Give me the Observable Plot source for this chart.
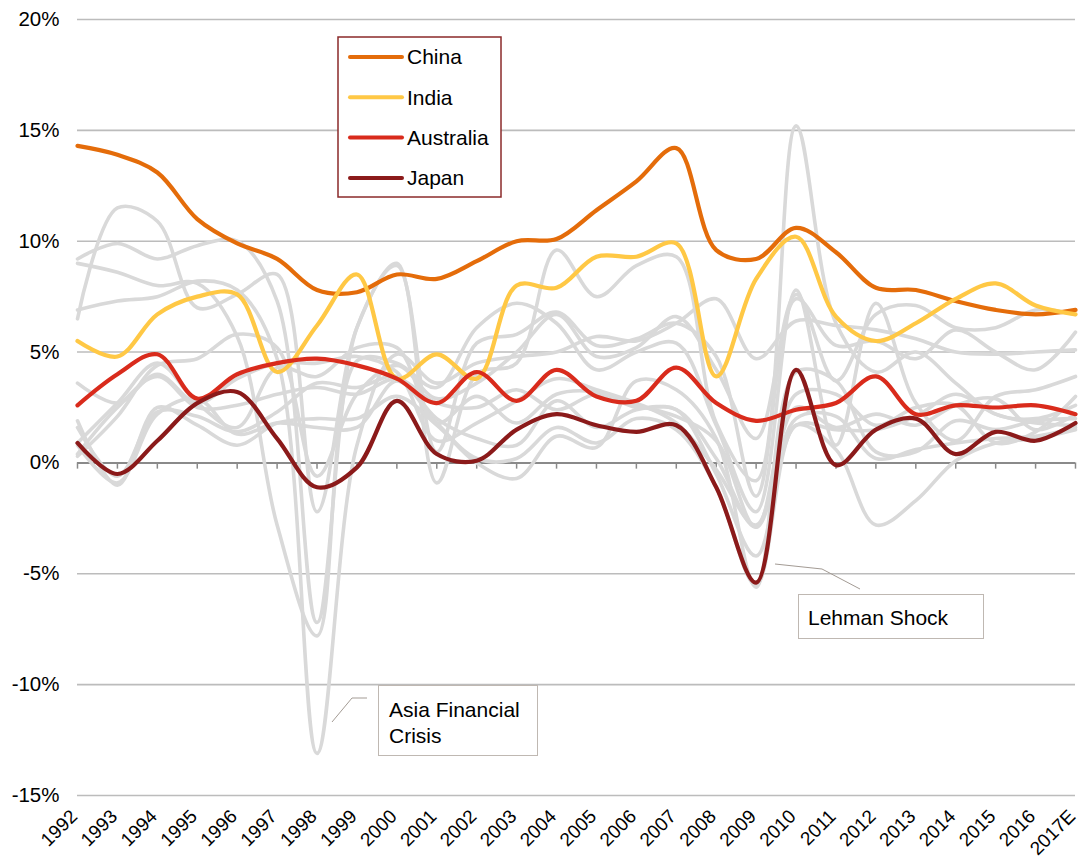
<!DOCTYPE html>
<html>
<head>
<meta charset="utf-8">
<script src="https://cdn.jsdelivr.net/npm/d3@7"></script>
<script src="https://cdn.jsdelivr.net/npm/@observablehq/plot@0.6"></script>
<style>
  body { margin: 0; background: #fff; }
  #chart { width: 1080px; height: 863px; }
</style>
</head>
<body>
<div id="chart"></div>
<script>
// ---- categories & ticks ----
const years = ["1992","1993","1994","1995","1996","1997","1998","1999","2000","2001","2002","2003","2004","2005","2006","2007","2008","2009","2010","2011","2012","2013","2014","2015","2016","2017E"];
const yTicks = [-15, -10, -5, 0, 5, 10, 15, 20];

// ---- highlighted series (real GDP growth, %) ----
const highlightNames = ["China", "India", "Australia", "Japan"];
const highlightColors = ["#e46c0a", "#ffc845", "#d92b1c", "#8b1a1a"];
const china     = [14.3, 13.9, 13.1, 11.0, 9.9, 9.2, 7.8, 7.7, 8.5, 8.3, 9.1, 10.0, 10.1, 11.4, 12.7, 14.2, 9.6, 9.2, 10.6, 9.5, 7.9, 7.8, 7.3, 6.9, 6.7, 6.9];
const india     = [5.5, 4.8, 6.7, 7.5, 7.6, 4.1, 6.2, 8.5, 3.8, 4.9, 3.8, 8.0, 7.9, 9.3, 9.3, 9.9, 3.9, 8.3, 10.2, 6.6, 5.5, 6.3, 7.4, 8.1, 7.1, 6.7];
const australia = [2.6, 4.0, 4.9, 2.9, 4.0, 4.5, 4.7, 4.4, 3.8, 2.7, 4.1, 2.8, 4.2, 3.0, 2.8, 4.3, 2.7, 1.9, 2.4, 2.7, 3.9, 2.2, 2.6, 2.5, 2.6, 2.2];
const japan     = [0.9, -0.5, 1.0, 2.7, 3.2, 1.1, -1.1, -0.2, 2.8, 0.4, 0.1, 1.5, 2.2, 1.7, 1.4, 1.7, -1.1, -5.4, 4.2, -0.1, 1.5, 2.0, 0.4, 1.4, 1.0, 1.8];

// ---- background (grey) series ----
const greyNames = ["Singapore","Malaysia","Thailand","Indonesia","Philippines","United States","United Kingdom","Germany","France","Italy","Canada"];
const singapore   = [6.5, 11.5, 10.9, 7.0, 7.6, 8.5, -2.2, 6.1, 9.0, -0.9, 4.0, 4.5, 9.6, 7.5, 8.9, 9.3, 1.8, -0.8, 15.2, 6.3, 4.1, 5.0, 3.6, 2.2, 2.0, 2.6];
const malaysia    = [9.2, 9.9, 9.2, 9.8, 10.0, 7.3, -7.2, 6.1, 8.9, 0.5, 5.4, 5.8, 6.8, 5.3, 5.6, 6.3, 4.8, -1.5, 7.4, 5.3, 5.5, 4.7, 6.0, 5.0, 4.2, 5.9];
const thailand    = [9.0, 8.6, 8.0, 8.1, 5.7, -2.8, -7.8, 4.6, 4.5, 3.4, 6.1, 7.2, 6.3, 4.2, 5.0, 5.4, 1.7, -2.2, 7.8, 0.8, 7.2, 2.7, 1.0, 3.0, 3.3, 3.9];
const indonesia   = [6.9, 7.3, 7.5, 8.2, 7.8, 4.7, -13.1, 0.8, 4.9, 3.6, 4.5, 4.8, 5.0, 5.7, 5.5, 6.3, 7.4, 4.7, 6.4, 6.2, 6.0, 5.6, 5.0, 4.9, 5.0, 5.1];
const philippines = [0.3, 2.1, 4.4, 4.7, 5.8, 5.2, -0.6, 3.1, 4.4, 2.9, 3.6, 5.0, 6.7, 4.8, 5.2, 6.6, 4.2, 1.1, 7.6, 3.7, 6.7, 7.1, 6.1, 6.1, 6.9, 6.7];
const usa         = [3.6, 2.7, 4.0, 2.7, 3.8, 4.5, 4.5, 4.8, 4.1, 1.0, 1.8, 2.8, 3.8, 3.3, 2.7, 1.8, -0.3, -2.8, 2.5, 1.6, 2.2, 1.7, 2.6, 2.9, 1.5, 2.2];
const uk          = [0.4, 2.5, 3.9, 2.5, 2.6, 3.1, 3.4, 3.1, 3.8, 2.7, 2.5, 3.3, 2.4, 3.1, 2.5, 2.4, -0.5, -4.2, 1.7, 1.5, 1.5, 2.1, 3.1, 2.2, 1.8, 1.7];
const germany     = [1.9, -1.0, 2.5, 1.7, 0.8, 1.8, 2.0, 2.0, 3.0, 1.7, 0.0, -0.7, 1.2, 0.7, 3.7, 3.3, 1.1, -5.6, 4.1, 3.7, 0.5, 0.5, 1.9, 1.5, 1.9, 2.0];
const france      = [1.6, -0.6, 2.3, 2.1, 1.4, 2.3, 3.6, 3.4, 3.9, 2.0, 1.1, 0.8, 2.8, 1.6, 2.4, 2.4, 0.2, -2.9, 2.0, 2.1, 0.2, 0.6, 0.9, 1.1, 1.2, 1.6];
const italy       = [0.8, -0.9, 2.2, 2.9, 1.3, 1.8, 1.6, 1.6, 3.7, 1.8, 0.2, 0.2, 1.6, 0.9, 2.0, 1.5, -1.1, -5.5, 1.7, 0.6, -2.8, -1.7, 0.1, 0.9, 1.1, 1.5];
const canada      = [0.9, 2.7, 4.5, 2.7, 1.6, 4.3, 3.9, 5.2, 5.2, 1.8, 3.0, 1.8, 3.1, 3.2, 2.6, 2.1, 1.0, -2.9, 3.1, 3.1, 1.7, 2.5, 2.6, 0.9, 1.4, 3.0];

// ---- annotations ----
const annotations = ["Asia Financial|Crisis", "Lehman Shock"];

// ---- build long tables (x = category index) ----
const greySeries = [singapore, malaysia, thailand, indonesia, philippines, usa, uk, germany, france, italy, canada];
const highlightSeries = [china, india, australia, japan];
const toRows = (names, series) => names.flatMap((n, i) => series[i].map((v, j) => ({country: n, idx: j, year: years[j], value: v})));
const greyRows = toRows(greyNames, greySeries);
const mainRows = toRows(highlightNames, highlightSeries);
const yearIdx = years.map((y, i) => ({idx: i, label: y}));

const FONT = "'Liberation Sans', Arial, Helvetica, sans-serif";

const chart = Plot.plot({
  width: 1080,
  height: 863,
  marginLeft: 77,
  marginRight: 5,
  marginTop: 19,
  marginBottom: 68,
  style: {fontFamily: FONT, fontSize: "20px", background: "#fff", color: "#000"},
  x: {type: "linear", domain: [0, years.length - 1], range: [77, 1075], axis: null},
  y: {domain: [-15, 20], axis: null},
  color: {domain: highlightNames, range: highlightColors},
  marks: [
    Plot.ruleY(yTicks.filter(d => d !== 0), {y: d => d, stroke: "#bcbcbc", strokeWidth: 1.6}),
    Plot.ruleY([0], {stroke: "#8a8a8a", strokeWidth: 2}),
    Plot.ruleX(yearIdx, {x: "idx", y1: 0, y2: -0.28, stroke: "#8a8a8a", strokeWidth: 1.5}),
    Plot.line(greyRows, {x: "idx", y: "value", z: "country", stroke: "#d9d9d9", strokeWidth: 3.6, curve: "catmull-rom", strokeLinecap: "round", strokeLinejoin: "round"}),
    Plot.line(mainRows, {x: "idx", y: "value", z: "country", stroke: "country", strokeWidth: 4.2, curve: "catmull-rom", strokeLinecap: "round", strokeLinejoin: "round"}),
    Plot.text(yTicks, {y: d => d, text: d => `${d}%`, frameAnchor: "left", textAnchor: "end", dx: -18, fontSize: 20.5, fill: "#000"}),
    Plot.text(yearIdx, {x: "idx", text: "label", frameAnchor: "bottom", textAnchor: "end", rotate: -45, dy: 22, dx: 1, fontSize: 19, fill: "#000"})
  ]
});

document.getElementById("chart").appendChild(chart);

// ---- legend (inside plot area) ----
const svg = d3.select(chart);
const lg = svg.append("g").attr("font-family", FONT).attr("font-size", 21).attr("text-anchor", "start");
lg.append("rect").attr("x", 338).attr("y", 37).attr("width", 163).attr("height", 160)
  .attr("fill", "#fff").attr("stroke", "#8b2a2a").attr("stroke-width", 1.5);
highlightNames.forEach((n, i) => {
  const yy = 57 + i * 40.3;
  lg.append("line").attr("x1", 350).attr("x2", 402).attr("y1", yy).attr("y2", yy)
    .attr("stroke", highlightColors[i]).attr("stroke-width", 4).attr("stroke-linecap", "round");
  lg.append("text").attr("x", 407).attr("y", yy).attr("dy", "0.35em").attr("fill", "#000").attr("text-anchor", "start").text(n);
});

// ---- annotation boxes ----
const ag = svg.append("g").attr("font-family", FONT).attr("font-size", 21).attr("text-anchor", "start");
// Asia Financial Crisis
ag.append("polyline").attr("points", "332,722 352,698 367,698").attr("fill", "none").attr("stroke", "#a39b94").attr("stroke-width", 1);
ag.append("rect").attr("x", 378.5).attr("y", 685.5).attr("width", 159).attr("height", 70)
  .attr("fill", "#fff").attr("stroke", "#bfb8b2").attr("stroke-width", 1);
annotations[0].split("|").forEach((t, i) => {
  ag.append("text").attr("x", 389).attr("y", 717 + i * 26).attr("fill", "#000").attr("text-anchor", "start").text(t);
});
// Lehman Shock
ag.append("polyline").attr("points", "775,564 822,569 860,589").attr("fill", "none").attr("stroke", "#a39b94").attr("stroke-width", 1);
ag.append("rect").attr("x", 798.5).attr("y", 594.5).attr("width", 185).attr("height", 44)
  .attr("fill", "#fff").attr("stroke", "#bfb8b2").attr("stroke-width", 1);
ag.append("text").attr("x", 808).attr("y", 625).attr("fill", "#000").attr("text-anchor", "start").text(annotations[1]);
</script>
</body>
</html>
